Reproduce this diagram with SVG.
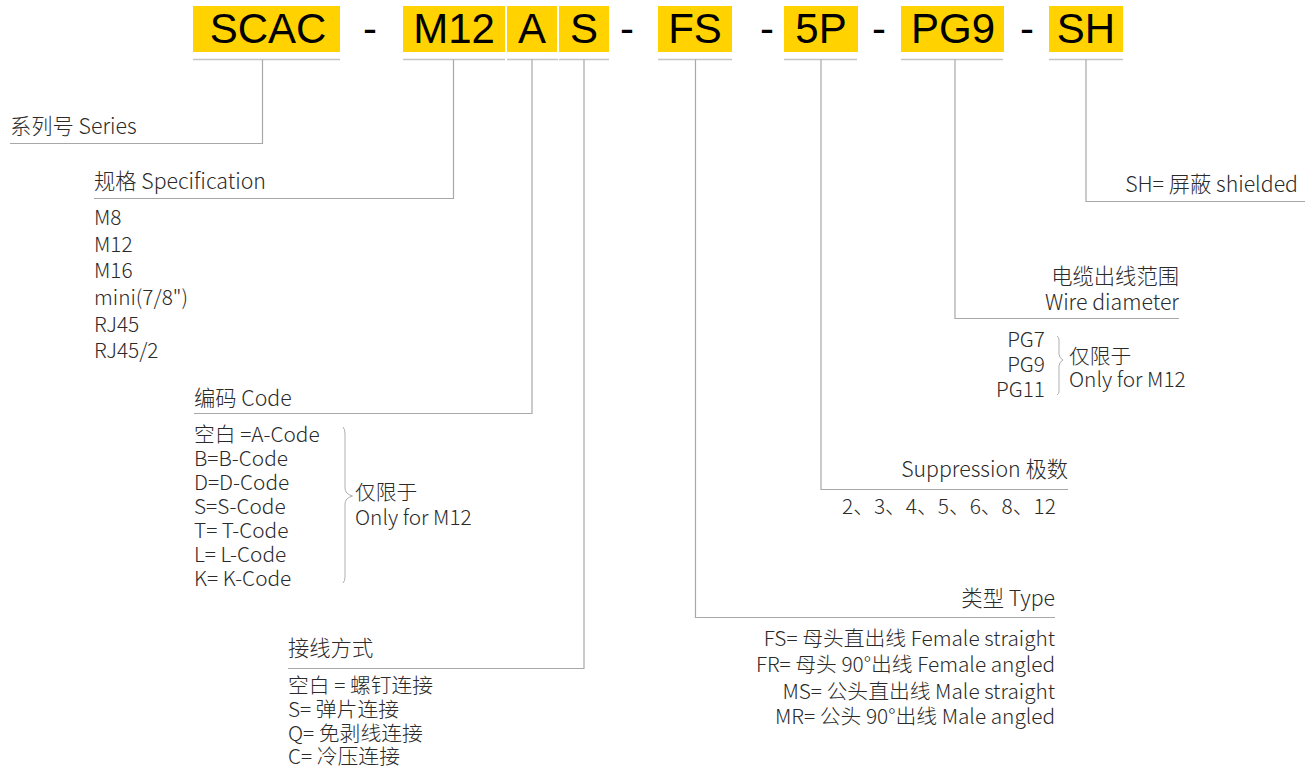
<svg xmlns="http://www.w3.org/2000/svg" width="1314" height="769" viewBox="0 0 1314 769">
<style>
.box{fill:#FFD200}
.code{font-family:"Liberation Sans",Arial,sans-serif;font-size:42px;fill:#000;text-anchor:middle}
.ln{stroke:#a8a8a8;stroke-width:1.2;fill:none}
.ul{stroke:#c4c4c4;stroke-width:1.5;fill:none}
.t{font-family:"Noto Sans CJK SC","Noto Sans",sans-serif;font-size:21.3px;font-weight:300;fill:#2a2a2a}
.i{font-family:"Noto Sans CJK SC","Noto Sans",sans-serif;font-size:20.8px;font-weight:300;fill:#2a2a2a}
.r{text-anchor:end}
.br{stroke:#b0b0b0;stroke-width:1;fill:none}
</style>
<rect width="1314" height="769" fill="#fff"/>
<g id="code-bar">
<rect class="box" x="193" y="6" width="147" height="46"/>
<rect class="box" x="403" y="6" width="102" height="46"/>
<rect class="box" x="507" y="6" width="50" height="46"/>
<rect class="box" x="559" y="6" width="50" height="46"/>
<rect class="box" x="658" y="6" width="74" height="46"/>
<rect class="box" x="784" y="6" width="74" height="46"/>
<rect class="box" x="901" y="6" width="103" height="46"/>
<rect class="box" x="1049" y="6" width="74" height="46"/>
<text class="code" x="268" y="43">SCAC</text>
<text class="code" x="370" y="43">-</text>
<text class="code" x="454" y="43">M12</text>
<text class="code" x="532" y="43">A</text>
<text class="code" x="584" y="43">S</text>
<text class="code" x="627" y="43">-</text>
<text class="code" x="695" y="43">FS</text>
<text class="code" x="767" y="43">-</text>
<text class="code" x="821" y="43">5P</text>
<text class="code" x="879" y="43">-</text>
<text class="code" x="953" y="43">PG9</text>
<text class="code" x="1027" y="43">-</text>
<text class="code" x="1086" y="43">SH</text>
</g>
<g id="connectors">
<path class="ul" d="M193 59.5H340M403 59.5H505M507 59.5H558M559 59.5H609M658 59.5H732M784 59.5H857M901 59.5H1003M1049 59.5H1123"/>
<path class="ln" d="M262.5 59.5V143.5H10"/>
<path class="ln" d="M453.5 59.5V198.5H94"/>
<path class="ln" d="M532 59.5V413.5H194"/>
<path class="ln" d="M584 59.5V668.5H288"/>
<path class="ln" d="M695.5 59.5V617.5H1055"/>
<path class="ln" d="M821 59.5V489.5H1068"/>
<path class="ln" d="M955 59.5V318.5H1179"/>
<path class="ln" d="M1086 59.5V201.5H1305"/>
</g>
<g id="series">
<text class="t" x="10" y="134">系列号 Series</text>
</g>
<g id="specification">
<text class="t" x="94" y="189">规格 Specification</text>
<text class="i" x="94" y="225">M8</text>
<text class="i" x="94" y="251.7">M12</text>
<text class="i" x="94" y="278.3">M16</text>
<text class="i" x="94" y="305">mini(7/8")</text>
<text class="i" x="94" y="331.7">RJ45</text>
<text class="i" x="94" y="358.3">RJ45/2</text>
</g>
<g id="code">
<text class="t" x="194" y="405.5">编码 Code</text>
<text class="i" x="194" y="442">空白 =A-Code</text>
<text class="i" x="194" y="466">B=B-Code</text>
<text class="i" x="194" y="490">D=D-Code</text>
<text class="i" x="194" y="514">S=S-Code</text>
<text class="i" x="194" y="538">T= T-Code</text>
<text class="i" x="194" y="562">L= L-Code</text>
<text class="i" x="194" y="586">K= K-Code</text>
<path class="br" d="M343 427Q345 429 345 434V488Q345 494 352.5 496Q345 498 345 504V577Q345 581 343 583"/>
<text class="i" x="355" y="500">仅限于</text>
<text class="i" x="355" y="525">Only for M12</text>
</g>
<g id="wiring">
<text class="t" x="288" y="655.5">接线方式</text>
<text class="i" x="288" y="693">空白 = 螺钉连接</text>
<text class="i" x="288" y="716.5">S= 弹片连接</text>
<text class="i" x="288" y="740.5">Q= 免剥线连接</text>
<text class="i" x="288" y="763.5">C= 冷压连接</text>
</g>
<g id="type">
<text class="t r" x="1055" y="605.5">类型 Type</text>
<text class="i r" x="1055" y="645.5">FS= 母头直出线 Female straight</text>
<text class="i r" x="1055" y="672">FR= 母头 90°出线 Female angled</text>
<text class="i r" x="1055" y="698.5">MS= 公头直出线 Male straight</text>
<text class="i r" x="1055" y="723.5">MR= 公头 90°出线 Male angled</text>
</g>
<g id="suppression">
<text class="t r" x="1068" y="477">Suppression 极数</text>
<text class="i" x="842" y="513.5">2、3、4、5、6、8、12</text>
</g>
<g id="wire-diameter">
<text class="t r" x="1179" y="284">电缆出线范围</text>
<text class="t r" x="1179" y="310">Wire diameter</text>
<text class="i r" x="1045" y="347">PG7</text>
<text class="i r" x="1045" y="372">PG9</text>
<text class="i r" x="1045" y="397">PG11</text>
<path class="br" d="M1057 336Q1059 337 1059 340V354Q1059 358 1063 360Q1059 362 1059 366V391Q1059 394 1057 395"/>
<text class="i" x="1069" y="363.5">仅限于</text>
<text class="i" x="1069" y="387">Only for M12</text>
</g>
<g id="shielded">
<text class="t r" x="1298" y="191.5">SH= 屏蔽 shielded</text>
</g>
</svg>
